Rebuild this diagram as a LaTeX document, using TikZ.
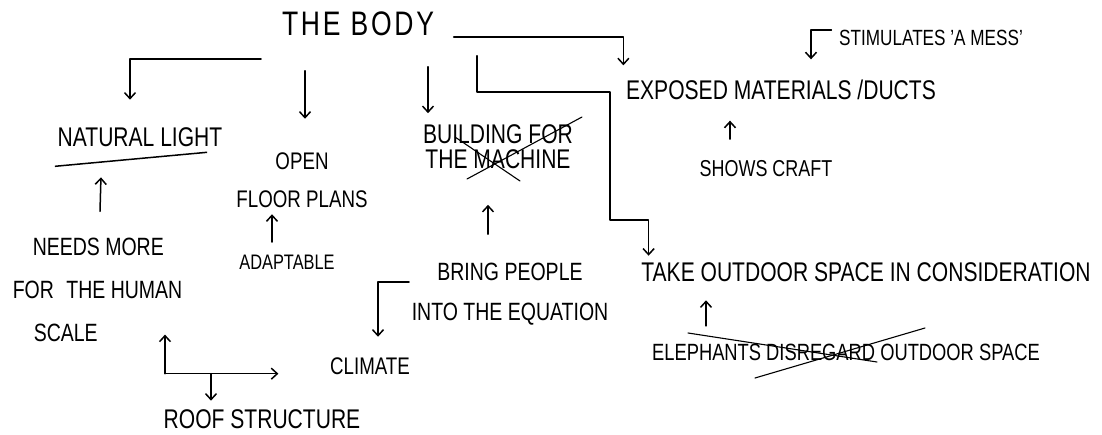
\documentclass[tikz,border=0pt]{standalone}
\usepackage{fontspec}
\setmainfont{Liberation Sans}[FakeStretch=0.78]
\usetikzlibrary{arrows.meta,positioning,calc}

\begin{document}
\begin{tikzpicture}[
    x=1pt,y=-1pt,
    line width=1.5pt,
    hand/.style={inner sep=0pt,align=center,
      font=\fontsize{27}{30}\selectfont},
    arr/.style={-{Straight Barb[length=6pt,width=11pt]},
      line cap=round,line join=round},
    strike/.style={line width=1.1pt,line cap=round}
  ]
  \useasboundingbox (0,0) rectangle (1102,435);

  \node[hand,font=\fontsize{34}{40}\selectfont\addfontfeature{LetterSpace=8}](body) at (358,24){THE BODY};
  \node[hand](light) at (140,137){NATURAL LIGHT};
  \node[hand,font=\fontsize{24}{38}\selectfont](open) at (302,180){OPEN\\FLOOR PLANS};
  \node[hand,font=\fontsize{21}{24}\selectfont](adapt) at (287,262){ADAPTABLE};
  \node[hand,font=\fontsize{27}{25}\selectfont](machine) at (498,147){BUILDING FOR\\THE MACHINE};
  \node[hand,font=\fontsize{25}{40}\selectfont](bring) at (510,294){BRING PEOPLE\\INTO THE EQUATION};
  \node[hand,align=left,anchor=west,font=\fontsize{25}{43}\selectfont](needs) at (12,290)
    {\hspace*{20pt}NEEDS MORE\\FOR\enspace THE HUMAN\\\hspace*{21pt}SCALE};
  \node[hand](roof) at (262,419){ROOF STRUCTURE};
  \node[hand,font=\fontsize{24}{28}\selectfont](climate) at (370,366){CLIMATE};
  \node[hand](exposed) at (781,90){EXPOSED MATERIALS /DUCTS};
  \node[hand,font=\fontsize{22}{26}\selectfont](stim) at (931,38){STIMULATES 'A MESS'};
  \node[hand,font=\fontsize{23}{26}\selectfont](shows) at (766,169){SHOWS CRAFT};
  \node[hand](take) at (866,272){TAKE OUTDOOR SPACE IN CONSIDERATION};
  \node[hand,font=\fontsize{23.5}{26}\selectfont](eleph) at (846,352){ELEPHANTS DISREGARD OUTDOOR SPACE};

  \draw ([shift={(-2,19)}]light.south west) -- ([shift={(-16,5)}]light.south east);
  \draw[strike] ([shift={(-43,-10)}]machine.center) -- ([shift={(22,34)}]machine.center);
  \draw[strike] ([shift={(-31,32)}]machine.center) -- ([shift={(84,-30)}]machine.center);
  \draw[strike] ([shift={(-158,-19)}]eleph.center) -- ([shift={(31,10)}]eleph.center);
  \draw[strike] ([shift={(-91,26)}]eleph.center) -- ([shift={(79,-24)}]eleph.center);

  \draw[arr] ([shift={(-97,22)}]body.south) -| ([shift={(-10,-27)}]light.north);
  \draw[arr] ([shift={(-53,34)}]body.south) -- ([shift={(3,-33)}]open.north);
  \draw[arr] ([shift={(70,30)}]body.south) -- ([shift={(-70,-11)}]machine.north);
  \draw[arr] ([shift={(19,13)}]body.east) -| ([shift={(-2,-14)}]exposed.north west);
  \draw[arr] ([shift={(119,19)}]body.south) |- ++(133,36) -- ++(0,128)
    -| ([shift={(8,-6)}]take.north west);
  \draw[arr] ([shift={(-15,-12)}]adapt.north) -- ([shift={(-30,6)}]open.south);
  \draw[arr] ([shift={(88,-26)}]needs.north west) -- ([shift={(44,30)}]light.south west);
  \draw[arr] ([shift={(-2,-12)}]bring.west) -| ([shift={(8,-20)}]climate.north);
  \draw[arr] ([shift={(-22,-28)}]bring.north) -- ([shift={(-10,35)}]machine.south);
  \draw[arr] ([shift={(-7,-8)}]stim.west) -| ([shift={(30,-20)}]exposed.north);
  \draw[arr] ([shift={(-36,-21)}]shows.north) -- ([shift={(-51,20)}]exposed.south);
  \draw[arr] ([shift={(-140,-17)}]eleph.north) -- ([shift={(-160,18)}]take.south);

  \coordinate (hub) at ([shift={(-97,-35)}]roof.north);
  \draw[arr] (hub) -- ($(hub |- needs.south)+(0,-8)$);
  \draw[arr] (hub) -- ($(hub -| climate.west)+(-51,0)$);
  \draw[arr] ([shift={(46,0)}]hub) -- ([shift={(-51,-8)}]roof.north);
\end{tikzpicture}
\end{document}
